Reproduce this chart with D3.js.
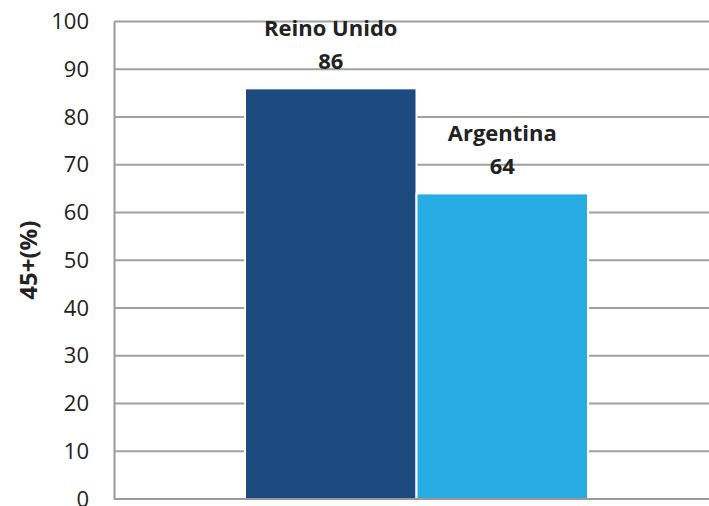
<!DOCTYPE html>
<html>
<head>
<meta charset="utf-8">
<script src="https://cdn.jsdelivr.net/npm/d3@7"></script>
<style>
  body { margin: 0; background: #fff; }
  svg text { font-family: "Open Sans", "Liberation Sans", sans-serif; fill: #222; }
</style>
</head>
<body>
<svg id="chart" width="709" height="506"></svg>
<script>
var series = ["Reino Unido", "Argentina"];
var values = [86, 64];
var colors = ["#1c4a7e", "#27ade3"];
var yTicks = [0, 10, 20, 30, 40, 50, 60, 70, 80, 90, 100];

var margin = {top: 21.5, right: -10, bottom: 7, left: 114},
    width = 709 - margin.left - margin.right,
    height = 506 - margin.top - margin.bottom;

var svg = d3.select("#chart")
  .append("g")
    .attr("transform", "translate(" + margin.left + "," + margin.top + ")");

// scales
var x0 = d3.scaleBand().domain(["all"]).range([0, width]).paddingOuter(0.382);
var x = d3.scaleBand().domain(series).range([x0("all"), x0("all") + x0.bandwidth()]);
var y = d3.scaleLinear().domain([0, 100]).range([height, 0]);

// gridlines
svg.append("g")
  .selectAll("line")
  .data(yTicks.filter(function(d) { return d > 0; }))
  .enter().append("line")
    .attr("x1", 0).attr("x2", width)
    .attr("y1", function(d) { return y(d); })
    .attr("y2", function(d) { return y(d); })
    .attr("stroke", "#a0a0a0")
    .attr("stroke-width", 2);

// bars
svg.append("g")
  .selectAll("rect")
  .data(series)
  .enter().append("rect")
    .attr("x", function(d) { return x(d); })
    .attr("width", x.bandwidth())
    .attr("y", function(d, i) { return y(values[i]); })
    .attr("height", function(d, i) { return height - y(values[i]); })
    .attr("fill", function(d, i) { return colors[i]; })
    .attr("stroke", "#fff")
    .attr("stroke-width", 2);

// labels
var lab = svg.append("g").selectAll("g")
  .data(series)
  .enter().append("g")
    .attr("transform", function(d, i) {
      return "translate(" + (x(d) + x.bandwidth() / 2) + "," + y(values[i]) + ")";
    });
lab.append("text")
    .attr("y", -52)
    .attr("text-anchor", "middle")
    .attr("font-size", 22)
    .attr("font-weight", "bold")
    .text(function(d) { return d; });
lab.append("text")
    .attr("y", -19)
    .attr("text-anchor", "middle")
    .attr("font-size", 22)
    .attr("font-weight", "bold")
    .text(function(d, i) { return values[i]; });

// axes
svg.append("line")
  .attr("x1", 0).attr("x2", width)
  .attr("y1", height).attr("y2", height)
  .attr("stroke", "#999").attr("stroke-width", 2);

var yAxis = svg.append("g")
  .call(d3.axisLeft(y).tickValues(yTicks).tickSize(0).tickPadding(25));
yAxis.select(".domain").attr("stroke", "#999").attr("stroke-width", 2);
yAxis.selectAll("text")
  .attr("font-size", 22)
  .attr("fill", "#222")
  .attr("font-family", "'Open Sans', 'Liberation Sans', sans-serif");

svg.append("text")
  .attr("transform", "translate(-77," + (height / 2) + ") rotate(-90)")
  .attr("text-anchor", "middle")
  .attr("font-size", 24)
  .attr("font-weight", "bold")
  .text("45+(%)");
</script>
</body>
</html>
